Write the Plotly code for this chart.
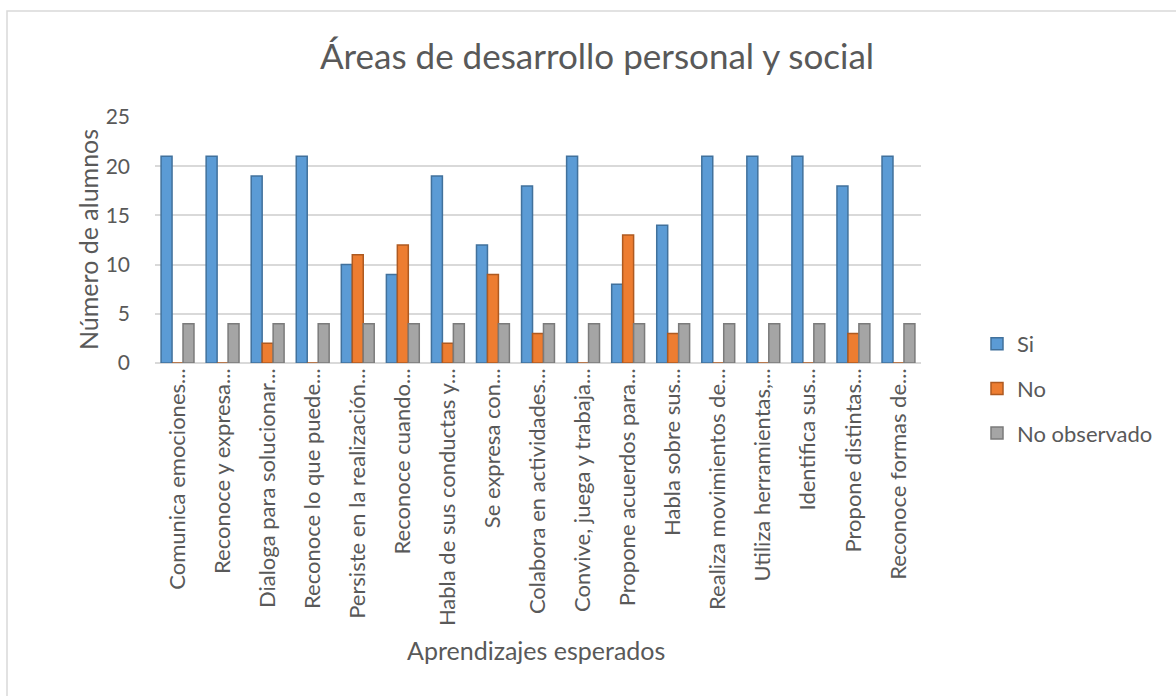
import plotly.graph_objects as go

categories = [
    "Comunica emociones...", "Reconoce y expresa...", "Dialoga para solucionar...",
    "Reconoce lo que puede...", "Persiste en la realización...", "Reconoce cuando...",
    "Habla de sus conductas y...", "Se expresa con...", "Colabora en actividades...",
    "Convive, juega y trabaja...", "Propone acuerdos para...", "Habla sobre sus...",
    "Realiza movimientos de...", "Utiliza herramientas,...", "Identifica sus...",
    "Propone distintas...", "Reconoce formas de...",
]
si = [21, 21, 19, 21, 10, 9, 19, 12, 18, 21, 8, 14, 21, 21, 21, 18, 21]
no = [0, 0, 2, 0, 11, 12, 2, 9, 3, 0, 13, 3, 0, 0, 0, 3, 0]
no_obs = [4] * 17

series = [
    ("Si", si, "#5B9BD5", "#41719C"),
    ("No", no, "#ED7D31", "#AE5A21"),
    ("No observado", no_obs, "#A5A5A5", "#7B7B7B"),
]

FONT = "Lato, Open Sans, sans-serif"
TXT = "#595959"

L, R, T, B = 155, 255, 117, 333
W, H = 1176, 696
PW, PH = W - L - R, H - T - B


def px(xp):
    return (xp - L) / PW


def py(yp):
    return (H - B - yp) / PH


fig = go.Figure()
for name, vals, col, edge in series:
    fig.add_trace(go.Bar(
        name=name, x=categories, y=vals, legendgroup=name,
        marker=dict(color=col, line=dict(color=edge, width=1.5)),
    ))

fig.update_layout(
    width=W, height=H,
    paper_bgcolor="white", plot_bgcolor="white",
    margin=dict(l=L, r=R, t=T, b=B),
    barmode="group", bargap=0.27, bargroupgap=0,
    font=dict(family=FONT, color=TXT, size=19),
    title=dict(text="Áreas de desarrollo personal y social", x=597 / W, xanchor="center",
               y=1 - 57 / H, yanchor="middle",
               font=dict(size=35, color=TXT, family=FONT)),
    showlegend=True,
    legend=dict(x=977 / W, xref="container", y=1 - 323 / H, yref="container",
                yanchor="top", xanchor="left", tracegroupgap=13,
                font=dict(size=22, color=TXT, family=FONT),
                itemwidth=30, bgcolor="rgba(0,0,0,0)"),
    xaxis=dict(tickangle=-90, showgrid=False, showline=False, ticks="",
               automargin=False,
               tickfont=dict(size=22, color=TXT, family=FONT)),
    yaxis=dict(range=[0, 25], dtick=5, gridcolor="#D9D9D9", gridwidth=1.5,
               zeroline=True, zerolinecolor="#D9D9D9", zerolinewidth=1.5,
               showline=False, ticks="", ticklabelstandoff=24, automargin=False,
               tickfont=dict(size=21, color=TXT, family=FONT)),
    annotations=[
        dict(text="Número de alumnos", xref="paper", yref="paper", x=px(88), y=py(240),
             xanchor="center", yanchor="middle", textangle=-90, showarrow=False,
             font=dict(size=25, color=TXT, family=FONT)),
        dict(text="Aprendizajes esperados", xref="paper", yref="paper",
             x=px(536), y=py(650), xanchor="center", yanchor="middle",
             showarrow=False, font=dict(size=25, color=TXT, family=FONT)),
    ],
    shapes=[
        dict(type="rect", xref="paper", yref="paper",
             x0=px(7), x1=px(1200), y0=py(720), y1=py(11),
             line=dict(color="#D9D9D9", width=1.5), fillcolor="rgba(0,0,0,0)",
             layer="below"),
    ],
)

fig.write_html("out.html", config={"displayModeBar": False},
               post_script="document.body.style.margin='0';document.body.style.overflow='hidden';")
